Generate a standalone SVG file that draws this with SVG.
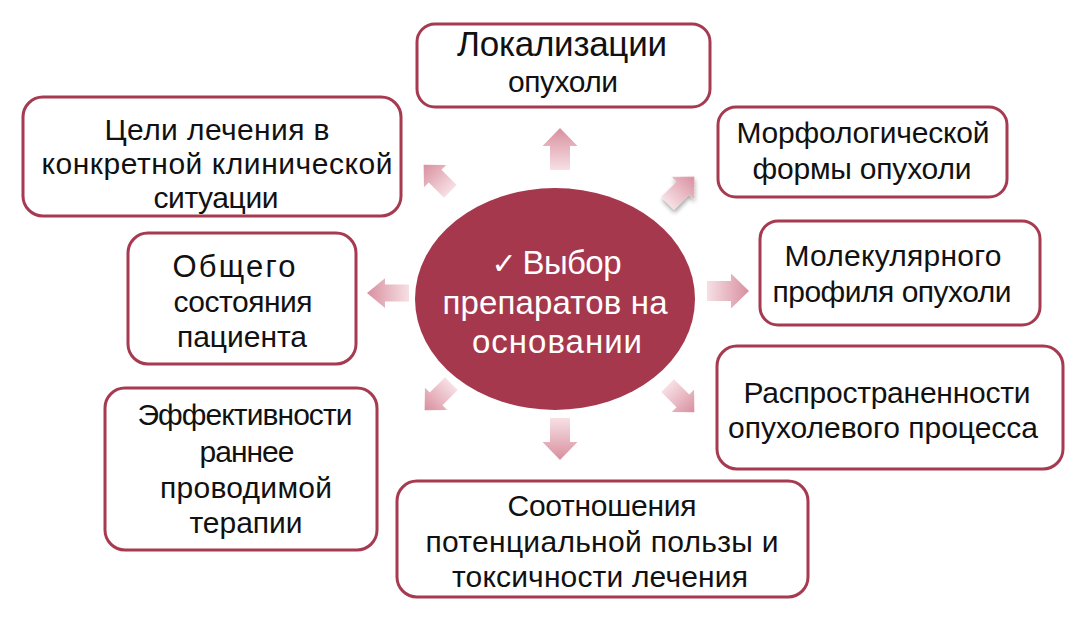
<svg xmlns="http://www.w3.org/2000/svg" width="1089" height="619" viewBox="0 0 1089 619">
<style>
.box{fill:#fff;stroke:#A63A50;stroke-width:3}
.t{font-family:"Liberation Sans",Arial,sans-serif;font-size:30px;fill:#111;text-anchor:middle}
.c{font-family:"Liberation Sans",Arial,sans-serif;font-size:33px;fill:#fff;text-anchor:middle}
.arr{fill:url(#ag)}
</style>
<defs>
<linearGradient id="ag" x1="0" y1="0" x2="1" y2="0">
<stop offset="0" stop-color="#F6E0E4"/>
<stop offset="1" stop-color="#D98F9F"/>
</linearGradient>
<path id="ar" d="M-21,-10 L3,-10 L3,-17.5 L21,0 L3,17.5 L3,10 L-21,10 Z"/>
<filter id="sh" x="-50%" y="-50%" width="200%" height="200%">
<feDropShadow dx="-2" dy="3" stdDeviation="2.5" flood-color="#000" flood-opacity="0.35"/>
</filter>
</defs>
<rect width="1089" height="619" fill="#fff"/>
<g id="connectors">
<use href="#ar" class="arr" transform="translate(560,149) rotate(-90)"/>
<use href="#ar" class="arr" transform="translate(560,439) rotate(90)"/>
<use href="#ar" class="arr" transform="translate(388,293) rotate(180) scale(1,0.85)"/>
<use href="#ar" class="arr" transform="translate(728,291)"/>
<use href="#ar" class="arr" transform="translate(437,178) rotate(-135) scale(0.9)"/>
<use href="#ar" class="arr" filter="url(#sh)" transform="translate(681,190) rotate(-45) scale(0.9)"/>
<use href="#ar" class="arr" transform="translate(438,397) rotate(135) scale(0.9)"/>
<use href="#ar" class="arr" transform="translate(681,399) rotate(45) scale(0.9)"/>
</g>
<g id="center">
<ellipse cx="555" cy="299" rx="140" ry="111" fill="#A6384E"/>
<text class="c" x="504" y="274" style="font-family:'DejaVu Sans',sans-serif;font-size:30px">✓</text>
<text class="c" x="572" y="274" textLength="99">Выбор</text>
<text class="c" x="555" y="314" textLength="225">препаратов на</text>
<text class="c" x="557" y="353" textLength="170">основании</text>
</g>
<g id="n-lokal">
<rect class="box" x="417" y="24" width="293" height="83" rx="18"/>
<text class="t" x="562" y="56" style="font-size:35px" textLength="210">Локализации</text>
<text class="t" x="563" y="92" textLength="110">опухоли</text>
</g>
<g id="n-celi">
<rect class="box" x="23" y="97" width="378" height="119" rx="20"/>
<text class="t" x="217" y="140" textLength="225">Цели лечения в</text>
<text class="t" x="217" y="174" textLength="351">конкретной клинической</text>
<text class="t" x="216" y="208" textLength="125">ситуации</text>
</g>
<g id="n-morf">
<rect class="box" x="718" y="107" width="289" height="90" rx="18"/>
<text class="t" x="863" y="143" textLength="253">Морфологической</text>
<text class="t" x="862" y="179" textLength="219">формы опухоли</text>
</g>
<g id="n-obsh">
<rect class="box" x="128" y="233" width="228" height="131" rx="20"/>
<text class="t" x="234" y="277" style="font-size:31px" textLength="123">Общего</text>
<text class="t" x="243" y="312" textLength="139">состояния</text>
<text class="t" x="242" y="347" textLength="130">пациента</text>
</g>
<g id="n-molek">
<rect class="box" x="760" y="221" width="280" height="104" rx="18"/>
<text class="t" x="893" y="266" textLength="217">Молекулярного</text>
<text class="t" x="892" y="302" textLength="239">профиля опухоли</text>
</g>
<g id="n-effekt">
<rect class="box" x="105" y="388" width="272" height="162" rx="20"/>
<text class="t" x="245" y="425" textLength="215">Эффективности</text>
<text class="t" x="247" y="462" textLength="95">раннее</text>
<text class="t" x="246" y="498" textLength="172">проводимой</text>
<text class="t" x="246" y="533" textLength="113">терапии</text>
</g>
<g id="n-rasp">
<rect class="box" x="717" y="346" width="346" height="123" rx="20"/>
<text class="t" x="887" y="403" textLength="287">Распространенности</text>
<text class="t" x="883" y="438" textLength="310">опухолевого процесса</text>
</g>
<g id="n-sootn">
<rect class="box" x="397" y="481" width="411" height="116" rx="20"/>
<text class="t" x="602" y="516" textLength="189">Соотношения</text>
<text class="t" x="602" y="552" textLength="353">потенциальной пользы и</text>
<text class="t" x="600" y="587" textLength="296">токсичности лечения</text>
</g>
</svg>
